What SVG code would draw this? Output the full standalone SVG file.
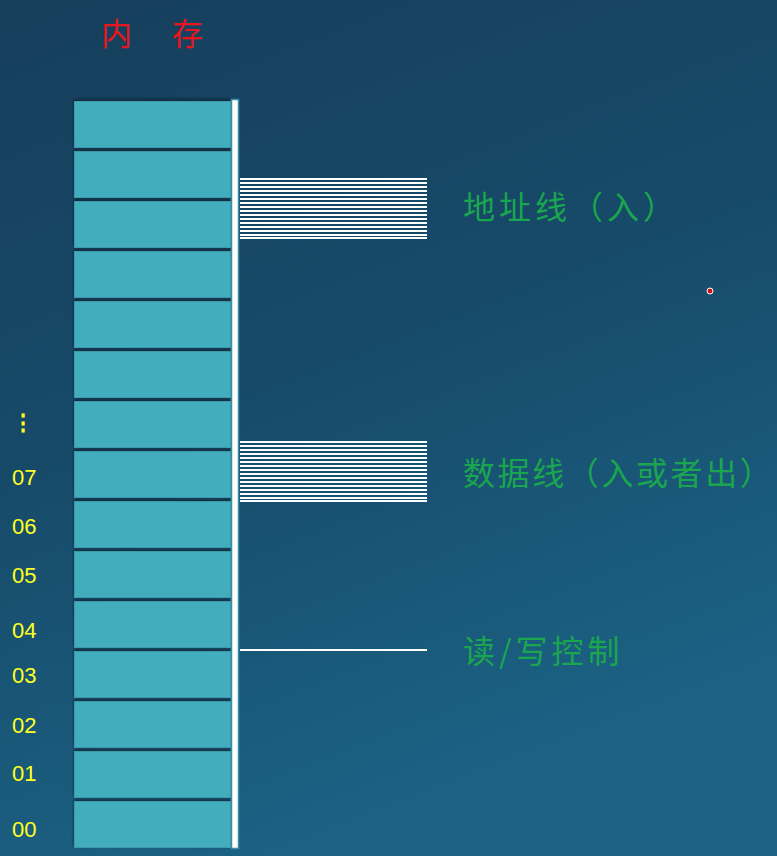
<svg xmlns="http://www.w3.org/2000/svg" width="777" height="856" viewBox="0 0 777 856">
<defs>
<linearGradient id="bg" x1="0" y1="0" x2="0.35" y2="1">
<stop offset="0" stop-color="#163f5c"/>
<stop offset="0.5" stop-color="#174a69"/>
<stop offset="1" stop-color="#1b6284"/>
</linearGradient>
<filter id="sh" x="-5%" y="-10%" width="110%" height="130%">
<feDropShadow dx="0" dy="-2" stdDeviation="1.5" flood-color="#0a2233" flood-opacity="0.8"/>
</filter>
</defs>
<style>
.cell{fill:#42adbd;stroke:#3a9aaa;stroke-width:1}
.ln{stroke:#ffffff;stroke-width:2}
.lbl{fill:#1aa64e;font-family:"Noto Sans CJK SC","Noto Sans",sans-serif;font-size:32px;letter-spacing:4px}
.lbl.long{letter-spacing:2.6px}
.num{fill:#ffff22;font-family:"Liberation Sans",Arial,sans-serif;font-size:22px}
.title{fill:#e8161e;font-family:"Noto Sans CJK SC",sans-serif;font-size:31px}
</style>
<rect width="777" height="856" fill="url(#bg)"/>
<g id="title"><text class="title" x="101" y="45">内</text><text class="title" x="172" y="45">存</text></g>
<g id="memory">
<g filter="url(#sh)">
<rect class="cell" x="74.5" y="101.5" width="156" height="46"/>
<rect class="cell" x="74.5" y="151.5" width="156" height="46"/>
<rect class="cell" x="74.5" y="201.5" width="156" height="46"/>
<rect class="cell" x="74.5" y="251.5" width="156" height="46"/>
<rect class="cell" x="74.5" y="301.5" width="156" height="46"/>
<rect class="cell" x="74.5" y="351.5" width="156" height="46"/>
<rect class="cell" x="74.5" y="401.5" width="156" height="46"/>
<rect class="cell" x="74.5" y="451.5" width="156" height="46"/>
<rect class="cell" x="74.5" y="501.5" width="156" height="46"/>
<rect class="cell" x="74.5" y="551.5" width="156" height="46"/>
<rect class="cell" x="74.5" y="601.5" width="156" height="46"/>
<rect class="cell" x="74.5" y="651.5" width="156" height="46"/>
<rect class="cell" x="74.5" y="701.5" width="156" height="46"/>
<rect class="cell" x="74.5" y="751.5" width="156" height="46"/>
<rect class="cell" x="74.5" y="801.5" width="156" height="46"/>
</g>
<rect x="231.5" y="99.5" width="7" height="749" fill="#ffffff" stroke="#3a8fa3" stroke-width="1.5"/>
</g>
<g id="connectors">
<g id="address-lines">
<line class="ln" x1="240" y1="179" x2="427" y2="179"/>
<line class="ln" x1="240" y1="183" x2="427" y2="183"/>
<line class="ln" x1="240" y1="187" x2="427" y2="187"/>
<line class="ln" x1="240" y1="191" x2="427" y2="191"/>
<line class="ln" x1="240" y1="195" x2="427" y2="195"/>
<line class="ln" x1="240" y1="199" x2="427" y2="199"/>
<line class="ln" x1="240" y1="203" x2="427" y2="203"/>
<line class="ln" x1="240" y1="207" x2="427" y2="207"/>
<line class="ln" x1="240" y1="211" x2="427" y2="211"/>
<line class="ln" x1="240" y1="215" x2="427" y2="215"/>
<line class="ln" x1="240" y1="219" x2="427" y2="219"/>
<line class="ln" x1="240" y1="223" x2="427" y2="223"/>
<line class="ln" x1="240" y1="227" x2="427" y2="227"/>
<line class="ln" x1="240" y1="231" x2="427" y2="231"/>
<line class="ln" x1="240" y1="235" x2="427" y2="235"/>
<line class="ln" x1="240" y1="238" x2="427" y2="238"/>
</g>
<g id="data-lines">
<line class="ln" x1="240" y1="442" x2="427" y2="442"/>
<line class="ln" x1="240" y1="446" x2="427" y2="446"/>
<line class="ln" x1="240" y1="450" x2="427" y2="450"/>
<line class="ln" x1="240" y1="454" x2="427" y2="454"/>
<line class="ln" x1="240" y1="458" x2="427" y2="458"/>
<line class="ln" x1="240" y1="462" x2="427" y2="462"/>
<line class="ln" x1="240" y1="466" x2="427" y2="466"/>
<line class="ln" x1="240" y1="470" x2="427" y2="470"/>
<line class="ln" x1="240" y1="474" x2="427" y2="474"/>
<line class="ln" x1="240" y1="478" x2="427" y2="478"/>
<line class="ln" x1="240" y1="482" x2="427" y2="482"/>
<line class="ln" x1="240" y1="486" x2="427" y2="486"/>
<line class="ln" x1="240" y1="490" x2="427" y2="490"/>
<line class="ln" x1="240" y1="494" x2="427" y2="494"/>
<line class="ln" x1="240" y1="498" x2="427" y2="498"/>
<line class="ln" x1="240" y1="501" x2="427" y2="501"/>
</g>
<line id="rw-line" class="ln" x1="240" y1="650" x2="427" y2="650"/>
</g>
<g id="labels">
<text class="lbl" x="463" y="219">地址线（入）</text>
<text class="lbl long" x="463" y="485">数据线（入或者出）</text>
<text class="lbl" x="463" y="663">读/写控制</text>
</g>
<g id="addresses">
<text class="num" x="23" y="430" text-anchor="middle" font-weight="bold">⋮</text>
<text class="num" x="12" y="485">07</text>
<text class="num" x="12" y="534">06</text>
<text class="num" x="12" y="583">05</text>
<text class="num" x="12" y="638">04</text>
<text class="num" x="12" y="683">03</text>
<text class="num" x="12" y="733">02</text>
<text class="num" x="12" y="781">01</text>
<text class="num" x="12" y="837">00</text>
</g>
<circle cx="710" cy="291" r="3" fill="#d41010" stroke="#ffffff" stroke-width="1"/>
</svg>
